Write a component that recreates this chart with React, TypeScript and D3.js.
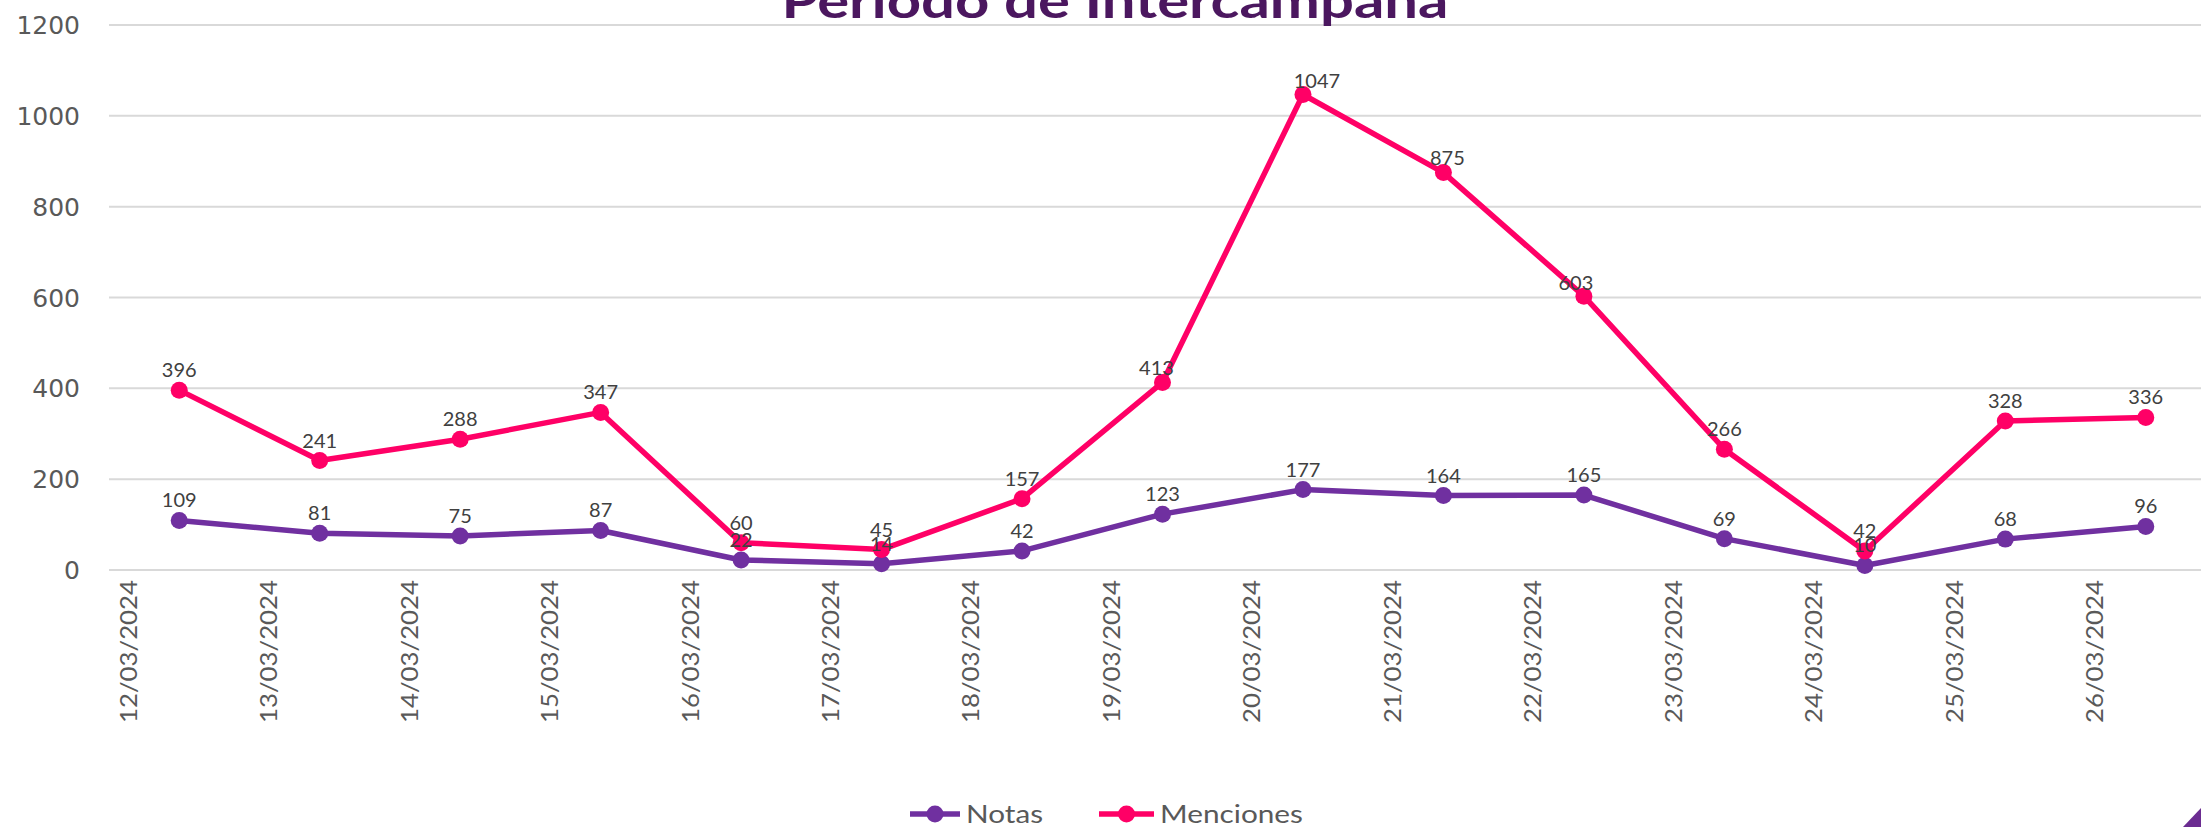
import React from 'react';
import * as d3 from 'd3';

const fechas = [
  '12/03/2024', '13/03/2024', '14/03/2024', '15/03/2024', '16/03/2024',
  '17/03/2024', '18/03/2024', '19/03/2024', '20/03/2024', '21/03/2024',
  '22/03/2024', '23/03/2024', '24/03/2024', '25/03/2024', '26/03/2024',
];
const notas = [109, 81, 75, 87, 22, 14, 42, 123, 177, 164, 165, 69, 10, 68, 96];
const menciones = [396, 241, 288, 347, 60, 45, 157, 413, 1047, 875, 603, 266, 42, 328, 336];
const yTicks = [0, 200, 400, 600, 800, 1000, 1200];

const series = [
  { name: 'Notas', values: notas, color: '#7030A0' },
  { name: 'Menciones', values: menciones, color: '#FF0066' },
];

// labels moved by hand in the original (series index -> point index -> [dx, dy])
const nudges = {
  1: { 7: [-6, 6], 8: [14, 7], 9: [4, 5], 10: [-8, 7] },
};

const W = 2201;
const H = 827;

const App = () => {
  const x = d3.scaleBand().domain(fechas).range([109, 2216]);
  const y = d3.scaleLinear().domain([0, 1200]).range([570, 25]);
  const cx = (d) => x(d) + x.bandwidth() / 2;

  const line = d3
    .line()
    .x((_, i) => cx(fechas[i]))
    .y((d) => y(d));

  return (
    <svg
      width={W}
      height={H}
      style={{ position: 'absolute', left: 0, top: 0, background: '#fff' }}
    >
      {/* grid + y axis */}
      {yTicks.map((t) => (
        <g key={t}>
          <line x1={109} x2={2216} y1={y(t)} y2={y(t)} stroke="#d9d9d9" strokeWidth={2} />
          <text
            x={80}
            y={y(t)}
            dy="0.36em"
            textAnchor="end"
            fontFamily="DejaVu Sans"
            fontSize={25}
            fill="#595959"
          >
            {t}
          </text>
        </g>
      ))}

      {/* title, cut at the top */}
      <text
        x={1115}
        y={18}
        textAnchor="middle"
        fontFamily="Lato"
        fontWeight={700}
        fontSize={48}
        fill="#4B175F"
        textLength={667}
        lengthAdjust="spacingAndGlyphs"
      >
        Periodo de Intercampaña
      </text>

      {/* x labels */}
      {fechas.map((f) => {
        const lx = cx(f) - 51;
        return (
          <text
            key={f}
            transform={`translate(${lx},580) rotate(-90)`}
            textAnchor="end"
            dy="0.35em"
            fontFamily="Lato"
            fontSize={24}
            fill="#595959"
            textLength={143}
            lengthAdjust="spacingAndGlyphs"
          >
            {f}
          </text>
        );
      })}

      {/* series */}
      {series.map((s) => (
        <g key={s.name}>
          <path d={line(s.values)} fill="none" stroke={s.color} strokeWidth={5.5} strokeLinejoin="round" />
          {s.values.map((v, i) => (
            <circle key={i} cx={cx(fechas[i])} cy={y(v)} r={8.5} fill={s.color} />
          ))}
        </g>
      ))}

      {/* data labels */}
      {series.map((s, si) => (
        <g key={s.name + '-lab'}>
          {s.values.map((v, i) => {
            const [dx, dy] = (nudges[si] && nudges[si][i]) || [0, 0];
            return (
              <text
                key={i}
                x={cx(fechas[i]) + dx}
                y={y(v) - 13 + dy}
                textAnchor="middle"
                fontFamily="Lato"
                fontSize={20}
                fill="#404040"
              >
                {v}
              </text>
            );
          })}
        </g>
      ))}

      {/* legend */}
      {[
        { ...series[0], x0: 910, x1: 960, tx: 966, tl: 77 },
        { ...series[1], x0: 1099, x1: 1154, tx: 1160, tl: 143 },
      ].map((l) => (
        <g key={l.name + '-leg'}>
          <line x1={l.x0} x2={l.x1} y1={814} y2={814} stroke={l.color} strokeWidth={5.5} />
          <circle cx={(l.x0 + l.x1) / 2} cy={814} r={8.5} fill={l.color} />
          <text
            x={l.tx}
            y={823}
            fontFamily="Lato"
            fontSize={25}
            fill="#595959"
            textLength={l.tl}
            lengthAdjust="spacingAndGlyphs"
          >
            {l.name}
          </text>
        </g>
      ))}

      {/* corner decoration */}
      <polygon points="2183,827 2201,808 2201,827" fill="#6B2C91" />
    </svg>
  );
};

export default App;
